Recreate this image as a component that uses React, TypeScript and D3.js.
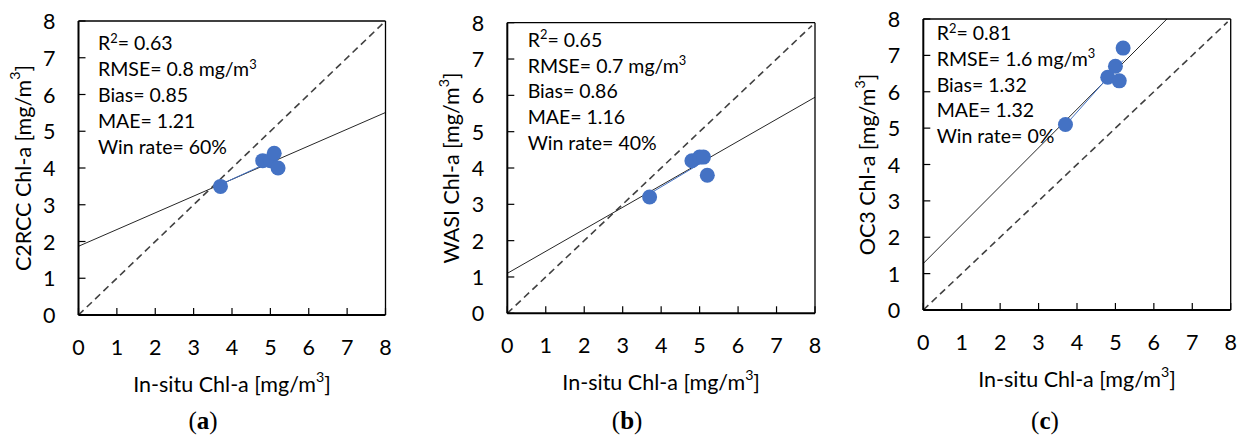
import React from "react";
import * as d3 from "d3";

// ---------- data ----------
const inSitu = [3.7, 4.8, 5.0, 5.1, 5.2];
const c2rcc = [3.5, 4.2, 4.2, 4.4, 4.0];
const wasi = [3.2, 4.2, 4.3, 4.3, 3.8];
const oc3 = [5.1, 6.4, 6.7, 6.3, 7.2];
const productNames = ["C2RCC", "WASI", "OC3"];
const fitIntercepts = [1.87, 1.1, 1.28];
const fitSlopes = [0.455, 0.606, 1.06];
const r2Values = ["0.63", "0.65", "0.81"];
const rmseValues = ["0.8", "0.7", "1.6"];
const biasValues = ["0.85", "0.86", "1.32"];
const maeValues = ["1.21", "1.16", "1.32"];
const winRates = ["60%", "40%", "0%"];
const panelLetters = ["a", "b", "c"];
const axisTicks = [0, 1, 2, 3, 4, 5, 6, 7, 8];
const axisDomain = [0, 8];
const oneToOneRange = [0, 7.92];

const productValues = [c2rcc, wasi, oc3];

// ---------- layout ----------
const layouts = [
  { left: 78.5, right: 385.5, top: 21, bottom: 315, annoDx: 19.5, annoTop: 29, annoStep: 26.1, capDx: -29 },
  { left: 507.3, right: 815, top: 22.7, bottom: 313.3, annoDx: 20.4, annoTop: 24, annoStep: 25.85, capDx: -34 },
  { left: 923.3, right: 1230.7, top: 19, bottom: 310, annoDx: 13.4, annoTop: 21, annoStep: 25.8, capDx: -32 },
];

const SANS = "Lato, 'Open Sans', sans-serif";
const TICK_SIZE = 21.5;
const ANNO_SIZE = 19.5;
const BLUE = "#4472C4";

function Sup({ base, sup, after, size }: { base: string; sup: string; after: string; size: number }) {
  return (
    <>
      {base}
      <tspan dy={-size * 0.38} fontSize={size * 0.66}>{sup}</tspan>
      <tspan dy={size * 0.38}>{after}</tspan>
    </>
  );
}

function Panel({ idx }: { idx: number }) {
  const L = layouts[idx];
  const x = d3.scaleLinear().domain(axisDomain).range([L.left, L.right]);
  const y = d3.scaleLinear().domain(axisDomain).range([L.bottom, L.top]);
  const ys = productValues[idx];
  const pts = inSitu.map((v, i) => [v, ys[i]] as [number, number]);

  // fit line (black) across the full axis, clipped to the box
  const a = fitIntercepts[idx];
  const b = fitSlopes[idx];
  const xEnd = Math.min(axisDomain[1], (axisDomain[1] - a) / b);
  const line = d3.line<[number, number]>().x((d) => x(d[0])).y((d) => y(d[1]));
  const fitPath = line([
    [axisDomain[0], a],
    [xEnd, a + b * xEnd],
  ]);
  const idPath = line(oneToOneRange.map((v) => [v, v] as [number, number]));

  // thin blue trend of the series over its own range
  const mx = d3.mean(inSitu)!;
  const my = d3.mean(ys)!;
  const sxy = d3.sum(inSitu, (v, i) => (v - mx) * (ys[i] - my));
  const sxx = d3.sum(inSitu, (v) => (v - mx) * (v - mx));
  const sl = sxy / sxx;
  const ic = my - sl * mx;
  const [x0, x1] = d3.extent(inSitu) as [number, number];
  const trendPath = line([
    [x0, ic + sl * x0],
    [x1, ic + sl * x1],
  ]);

  const cx = (L.left + L.right) / 2;
  const cy = (L.top + L.bottom) / 2;
  const annoX = L.left + L.annoDx;
  const rows = [
    <Sup key="r2" base="R" sup="2" after={`= ${r2Values[idx]}`} size={ANNO_SIZE} />,
    <Sup key="rmse" base={`RMSE= ${rmseValues[idx]} mg/m`} sup="3" after="" size={ANNO_SIZE} />,
    <>{`Bias= ${biasValues[idx]}`}</>,
    <>{`MAE= ${maeValues[idx]}`}</>,
    <>{`Win rate= ${winRates[idx]}`}</>,
  ];

  return (
    <g>
      {/* 1:1 line */}
      <path d={idPath!} fill="none" stroke="#404040" strokeWidth={1.6} strokeDasharray="7,4.5" />
      {/* fit line */}
      <path d={fitPath!} fill="none" stroke="#262626" strokeWidth={1} />
      {/* blue trend */}
      <path d={trendPath!} fill="none" stroke={BLUE} strokeWidth={1} />
      {/* points */}
      {pts.map((p, i) => (
        <circle key={i} cx={x(p[0])} cy={y(p[1])} r={7.5} fill={BLUE} />
      ))}
      {/* frame */}
      <line x1={L.left} x2={L.right} y1={L.top} y2={L.top} stroke="#000" strokeWidth={1.3} />
      <line x1={L.right} x2={L.right} y1={L.top} y2={L.bottom} stroke="#000" strokeWidth={1.3} />
      <line x1={L.left} x2={L.left} y1={L.top} y2={L.bottom} stroke="#000" strokeWidth={2} />
      <line x1={L.left} x2={L.right} y1={L.bottom} y2={L.bottom} stroke="#000" strokeWidth={2} />
      {/* ticks */}
      {axisTicks.map((t) => (
        <g key={t}>
          <line x1={x(t)} x2={x(t)} y1={L.bottom} y2={L.bottom - 7} stroke="#000" strokeWidth={1.2} />
          <line x1={L.left} x2={L.left + 7} y1={y(t)} y2={y(t)} stroke="#000" strokeWidth={1.2} />
          <text x={x(t)} y={L.bottom + 32} textAnchor="middle" dominantBaseline="central" fontFamily={SANS} fontSize={TICK_SIZE} fill="#000">
            {t}
          </text>
          <text x={L.left - 23} y={y(t)} textAnchor="end" dominantBaseline="central" fontFamily={SANS} fontSize={TICK_SIZE} fill="#000">
            {t}
          </text>
        </g>
      ))}
      {/* annotations */}
      {rows.map((r, i) => (
        <text key={i} x={annoX} y={L.top + L.annoTop + i * L.annoStep} fontFamily={SANS} fontSize={ANNO_SIZE} fill="#000">
          {r}
        </text>
      ))}
      {/* x title */}
      <text x={cx} y={L.bottom + 69} textAnchor="middle" dominantBaseline="central" fontFamily={SANS} fontSize={TICK_SIZE} fill="#000">
        <Sup base="In-situ Chl-a [mg/m" sup="3" after="]" size={TICK_SIZE} />
      </text>
      {/* y title */}
      <text
        transform={`translate(${L.left - 56},${cy}) rotate(-90)`}
        textAnchor="middle"
        dominantBaseline="central"
        fontFamily={SANS}
        fontSize={TICK_SIZE}
        fill="#000"
      >
        <Sup base={`${productNames[idx]} Chl-a [mg/m`} sup="3" after="]" size={TICK_SIZE} />
      </text>
      {/* caption */}
      <text x={cx + L.capDx} y={420} textAnchor="middle" dominantBaseline="central" fontFamily="'Liberation Serif', 'DejaVu Serif', serif" fontSize={25} fill="#000">
        (<tspan fontWeight="bold">{panelLetters[idx]}</tspan>)
      </text>
    </g>
  );
}

export default function App() {
  return (
    <svg
      width={1242}
      height={437}
      viewBox="0 0 1242 437"
      style={{ position: "absolute", left: 0, top: 0, background: "#fff" }}
    >
      <rect x={0} y={0} width={1242} height={437} fill="#fff" />
      {layouts.map((_, i) => (
        <Panel key={i} idx={i} />
      ))}
    </svg>
  );
}
